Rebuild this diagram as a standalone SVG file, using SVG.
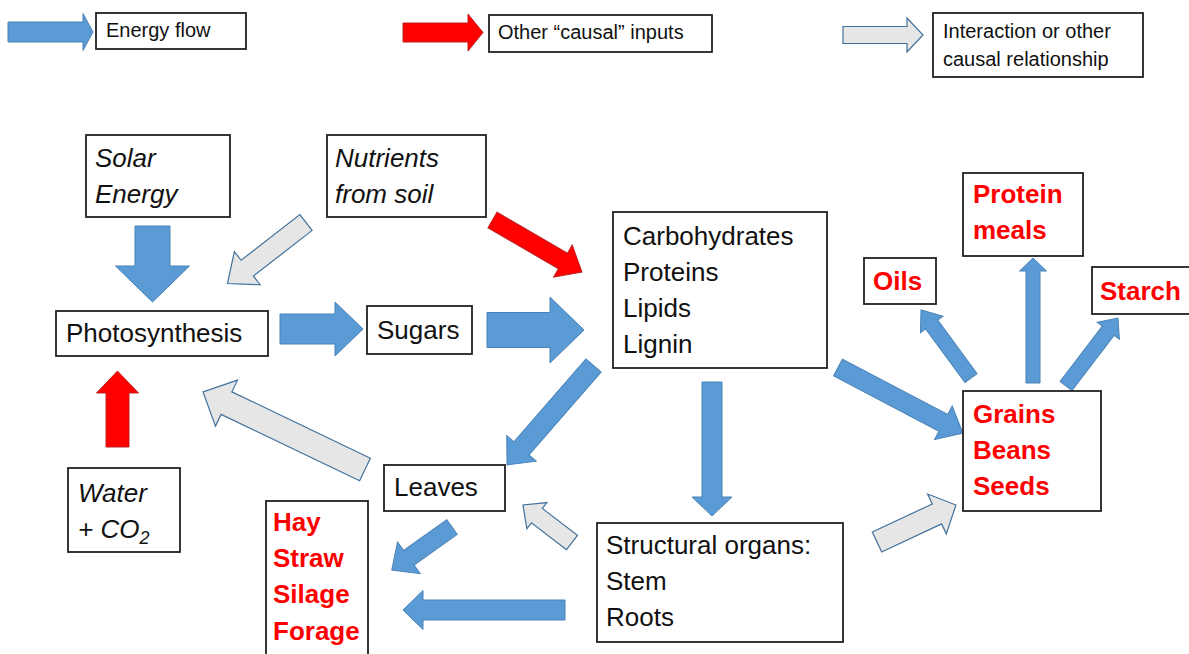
<svg xmlns="http://www.w3.org/2000/svg" width="1189" height="654" viewBox="0 0 1189 654">
  <style>
    .box { fill: #ffffff; stroke: #222222; stroke-width: 1.8; }
    .t { font-family: "Liberation Sans", Arial, sans-serif; font-size: 26px; fill: #111111; }
    .it { font-style: italic; }
    .red { fill: #ff0000; font-weight: bold; }
    .leg { font-family: "Liberation Sans", Arial, sans-serif; font-size: 20px; fill: #111111; }
    .energy { fill: #5b9bd5; stroke: #4a82b8; stroke-width: 1; }
    .cause { fill: #ff0000; stroke: #c02020; stroke-width: 1; }
    .inter { fill: #e6e6e6; stroke: #41719c; stroke-width: 1.2; }
  </style>

  <!-- Block arrows: each path points along +x from its tail (0,0) to its tip -->
  <g id="connectors">
    <!-- legend -->
    <path class="energy" transform="translate(8,32)" d="M0,-10 L75,-10 L75,-18.5 L85,0 L75,18.5 L75,10 L0,10 Z"/>
    <path class="cause" transform="translate(403,32.5)" d="M0,-9.5 L65,-9.5 L65,-18.5 L80,0 L65,18.5 L65,9.5 L0,9.5 Z"/>
    <path class="inter" transform="translate(843,35)" d="M0,-8.5 L64,-8.5 L64,-17 L80,0 L64,17 L64,8.5 L0,8.5 Z"/>

    <!-- solar energy -> photosynthesis -->
    <path class="energy" transform="translate(152.5,226) rotate(90)" d="M0,-17.5 L40,-17.5 L40,-37 L76,0 L40,37 L40,17.5 L0,17.5 Z"/>
    <!-- nutrients -> photosynthesis -->
    <path class="inter" transform="translate(306,222.5) rotate(142.15)" d="M0,-10 L74.4,-10 L74.4,-21 L99.4,0 L74.4,21 L74.4,10 L0,10 Z"/>
    <!-- nutrients -> carbohydrates -->
    <path class="cause" transform="translate(492.5,220) rotate(30.2)" d="M0,-9 L81.5,-9 L81.5,-18.5 L103.5,0 L81.5,18.5 L81.5,9 L0,9 Z"/>
    <!-- photosynthesis -> sugars -->
    <path class="energy" transform="translate(280,329)" d="M0,-15 L55,-15 L55,-27 L83,0 L55,27 L55,15 L0,15 Z"/>
    <!-- sugars -> carbohydrates -->
    <path class="energy" transform="translate(487,330)" d="M0,-17.5 L63,-17.5 L63,-33 L97,0 L63,33 L63,17.5 L0,17.5 Z"/>
    <!-- water + CO2 -> photosynthesis -->
    <path class="cause" transform="translate(117.5,447) rotate(-90)" d="M0,-11.5 L54,-11.5 L54,-21 L76,0 L54,21 L54,11.5 L0,11.5 Z"/>
    <!-- leaves -> photosynthesis -->
    <path class="inter" transform="translate(365,469.5) rotate(-154.4)" d="M0,-12.5 L153.6,-12.5 L153.6,-25.5 L179.6,0 L153.6,25.5 L153.6,12.5 L0,12.5 Z"/>
    <!-- carbohydrates -> leaves -->
    <path class="energy" transform="translate(593.5,365.5) rotate(131)" d="M0,-10 L109.8,-10 L109.8,-19.5 L131.8,0 L109.8,19.5 L109.8,10 L0,10 Z"/>
    <!-- carbohydrates -> structural organs -->
    <path class="energy" transform="translate(712,382) rotate(90)" d="M0,-10 L115,-10 L115,-20 L134,0 L115,20 L115,10 L0,10 Z"/>
    <!-- carbohydrates -> grains -->
    <path class="energy" transform="translate(838,367.5) rotate(27.7)" d="M0,-9.5 L119,-9.5 L119,-19 L141,0 L119,19 L119,9.5 L0,9.5 Z"/>
    <!-- grains -> oils -->
    <path class="energy" transform="translate(971,378) rotate(-126.3)" d="M0,-7.5 L66.4,-7.5 L66.4,-14 L84.4,0 L66.4,14 L66.4,7.5 L0,7.5 Z"/>
    <!-- grains -> protein meals -->
    <path class="energy" transform="translate(1033,383) rotate(-90)" d="M0,-7 L112,-7 L112,-13.5 L125,0 L112,13.5 L112,7 L0,7 Z"/>
    <!-- grains -> starch -->
    <path class="energy" transform="translate(1066,386) rotate(-52.6)" d="M0,-7.5 L69.6,-7.5 L69.6,-14 L85.6,0 L69.6,14 L69.6,7.5 L0,7.5 Z"/>
    <!-- leaves -> hay -->
    <path class="energy" transform="translate(452,527) rotate(144.5)" d="M0,-9 L53,-9 L53,-19.5 L74,0 L53,19.5 L53,9 L0,9 Z"/>
    <!-- structural organs -> hay -->
    <path class="energy" transform="translate(565,610) rotate(180)" d="M0,-10 L142,-10 L142,-19.5 L162,0 L142,19.5 L142,10 L0,10 Z"/>
    <!-- structural organs -> leaves -->
    <path class="inter" transform="translate(572,542.5) rotate(-142.6)" d="M0,-9 L44.2,-9 L44.2,-16.5 L61.7,0 L44.2,16.5 L44.2,9 L0,9 Z"/>
    <!-- structural organs -> grains -->
    <path class="inter" transform="translate(877,542) rotate(-25.1)" d="M0,-11 L66.2,-11 L66.2,-22 L87.2,0 L66.2,22 L66.2,11 L0,11 Z"/>
  </g>

  <!-- legend -->
  <g id="legend-energy">
    <rect class="box" x="96" y="13" width="150" height="36"/>
    <text class="leg" x="106" y="37">Energy flow</text>
  </g>
  <g id="legend-causal">
    <rect class="box" x="489" y="15" width="223" height="37"/>
    <text class="leg" x="498" y="39">Other “causal” inputs</text>
  </g>
  <g id="legend-interaction">
    <rect class="box" x="933" y="13" width="210" height="64"/>
    <text class="leg" x="943" y="38">Interaction or other</text>
    <text class="leg" x="943" y="66">causal relationship</text>
  </g>

  <!-- nodes -->
  <g id="solar">
    <rect class="box" x="86" y="135" width="144" height="82"/>
    <text class="t it" x="95" y="167">Solar</text>
    <text class="t it" x="95" y="203">Energy</text>
  </g>
  <g id="nutrients">
    <rect class="box" x="327" y="135" width="159" height="82"/>
    <text class="t it" x="335" y="167">Nutrients</text>
    <text class="t it" x="335" y="203">from soil</text>
  </g>
  <g id="photosynthesis">
    <rect class="box" x="56" y="311" width="212" height="45"/>
    <text class="t" x="66" y="342">Photosynthesis</text>
  </g>
  <g id="sugars">
    <rect class="box" x="367" y="306" width="105" height="48"/>
    <text class="t" x="377" y="339">Sugars</text>
  </g>
  <g id="compounds">
    <rect class="box" x="613" y="212" width="214" height="156"/>
    <text class="t" x="623" y="245">Carbohydrates</text>
    <text class="t" x="623" y="281">Proteins</text>
    <text class="t" x="623" y="317">Lipids</text>
    <text class="t" x="623" y="353">Lignin</text>
  </g>
  <g id="protein-meals">
    <rect class="box" x="963" y="173" width="120" height="83"/>
    <text class="t red" x="973" y="203">Protein</text>
    <text class="t red" x="973" y="239">meals</text>
  </g>
  <g id="oils">
    <rect class="box" x="864" y="258" width="72" height="46"/>
    <text class="t red" x="873" y="290">Oils</text>
  </g>
  <g id="starch">
    <rect class="box" x="1092" y="267" width="110" height="47"/>
    <text class="t red" x="1100" y="300">Starch</text>
  </g>
  <g id="grains">
    <rect class="box" x="963" y="391" width="138" height="120"/>
    <text class="t red" x="973" y="423">Grains</text>
    <text class="t red" x="973" y="459">Beans</text>
    <text class="t red" x="973" y="495">Seeds</text>
  </g>
  <g id="leaves">
    <rect class="box" x="384" y="465" width="121" height="46"/>
    <text class="t" x="394" y="496">Leaves</text>
  </g>
  <g id="water-co2">
    <rect class="box" x="68" y="468" width="112" height="84"/>
    <text class="t it" x="78" y="502">Water</text>
    <text class="t it" x="78" y="538">+ CO<tspan font-size="18" dy="6">2</tspan></text>
  </g>
  <g id="forage">
    <rect class="box" x="266" y="501" width="102" height="170"/>
    <text class="t red" x="273" y="531">Hay</text>
    <text class="t red" x="273" y="567">Straw</text>
    <text class="t red" x="273" y="603">Silage</text>
    <text class="t red" x="273" y="640">Forage</text>
  </g>
  <g id="structural">
    <rect class="box" x="597" y="523" width="246" height="119"/>
    <text class="t" x="606" y="554">Structural organs:</text>
    <text class="t" x="606" y="590">Stem</text>
    <text class="t" x="606" y="626">Roots</text>
  </g>
</svg>
